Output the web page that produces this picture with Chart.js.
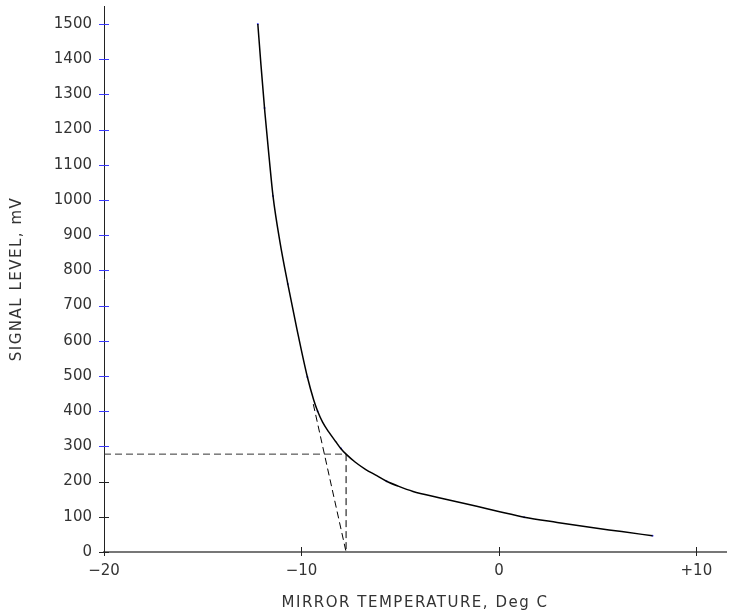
<!DOCTYPE html>
<html>
<head>
<meta charset="utf-8">
<script src="https://cdn.jsdelivr.net/npm/chart.js@4/dist/chart.umd.min.js"></script>
<style>
  html, body { margin: 0; padding: 0; background: #fff; }
  #wrap { width: 730px; height: 613px; }
</style>
</head>
<body>
<div id="wrap"><canvas id="grafico"></canvas></div>
<script>
// curva de calibracion
const curveTemp = [-12.21, -12.05, -11.85, -11.64, -11.44, -11.09, -10.69, -10.24, -9.70, -9.38,
    -9.18, -8.93, -8.62, -8.27, -8.02, -7.74, -7.27, -6.76, -6.26, -5.69,
    -5.10, -4.35, -3.09, -2.08, -1.07, -0.07, 1.28, 2.95, 4.61, 6.22, 7.78];
const curveSignal = [1500, 1383, 1247, 1122, 1011, 881, 761, 636, 497, 432,
    400, 369, 341, 314, 295, 278, 255, 235, 219, 201,
    187, 172, 155, 142, 129, 116, 99, 84, 70, 58, 46];

// puntos marcados en azul sobre la curva
const markerTemp = [-12.21, -11.87, -11.44, -10.69, -9.70, -9.18, -7.99, -5.69, 1.28, 7.78];
const markerSignal = [1500, 1261, 1011, 761, 497, 400, 294, 201, 99, 46];

// construccion del punto de rocio
const dewTemp = -7.74;
const dewSignal = 278;
const tangentTemp = [-9.4, -7.74];
const tangentSignal = [420, 0];

const xTicks = [-20, -10, 0, 10];
const yTicks = [0, 100, 200, 300, 400, 500, 600, 700, 800, 900, 1000, 1100, 1200, 1300, 1400, 1500];

const toXY = (xs, ys) => xs.map((x, i) => ({ x: x, y: ys[i] }));

const tickColorY = v => v >= 300 ? '#3a3aff' : '#222';

// marcas de eje que cruzan la linea
const crossTicks = {
    id: 'crossTicks',
    afterDatasetsDraw(chart) {
        const { ctx, chartArea, scales } = chart;
        ctx.save();
        ctx.lineWidth = 1;
        scales.y.ticks.forEach(t => {
            const py = Math.round(scales.y.getPixelForValue(t.value)) + 0.5;
            ctx.strokeStyle = tickColorY(t.value);
            ctx.beginPath();
            ctx.moveTo(chartArea.left - 5, py);
            ctx.lineTo(chartArea.left + 5, py);
            ctx.stroke();
        });
        scales.x.ticks.forEach(t => {
            const px = Math.round(scales.x.getPixelForValue(t.value)) + 0.5;
            ctx.strokeStyle = '#222';
            ctx.beginPath();
            ctx.moveTo(px, chartArea.bottom + 4);
            ctx.lineTo(px, chartArea.bottom - 5);
            ctx.stroke();
        });
        ctx.restore();
    }
};

// espaciado de letras solo para los titulos de los ejes
const titleSpacing = {
    id: 'titleSpacing',
    beforeDraw(chart) { chart.ctx.letterSpacing = '1.5px'; },
    beforeDatasetsDraw(chart) { chart.ctx.letterSpacing = '0px'; }
};

const fuente = { family: 'DejaVu Sans', size: 15 };

new Chart(document.getElementById('grafico'), {
    type: 'scatter',
    data: {
        datasets: [
            {
                data: toXY([-20, dewTemp], [dewSignal, dewSignal]),
                showLine: true, borderColor: '#333', borderWidth: 1, borderDash: [7, 4],
                pointRadius: 0
            },
            {
                data: toXY([dewTemp, dewTemp], [dewSignal, 0]),
                showLine: true, borderColor: '#000', borderWidth: 1, borderDash: [7, 4],
                pointRadius: 0
            },
            {
                data: toXY(tangentTemp, tangentSignal),
                showLine: true, borderColor: '#000', borderWidth: 1, borderDash: [7, 4],
                pointRadius: 0
            },
            {
                data: toXY(curveTemp, curveSignal),
                showLine: true, borderColor: '#000', borderWidth: 1.5,
                cubicInterpolationMode: 'monotone',
                pointRadius: 0
            },
            {
                data: toXY(markerTemp, markerSignal),
                showLine: false,
                pointRadius: 1, pointBorderWidth: 0, pointBackgroundColor: '#4a4aff'
            }
        ]
    },
    options: {
        responsive: true,
        maintainAspectRatio: false,
        animation: false,
        layout: { padding: { top: 6, right: 0, bottom: 0, left: 0 } },
        plugins: { legend: { display: false }, tooltip: { enabled: false } },
        scales: {
            x: {
                type: 'linear', min: -20, max: 11.5,
                afterBuildTicks: s => { s.ticks = xTicks.map(v => ({ value: v })); },
                afterFit: s => { s.height = 61; s.paddingLeft = 0; s.paddingRight = 0; },
                grid: { drawOnChartArea: false, drawTicks: true, tickLength: 4, tickColor: 'rgba(0,0,0,0)' },
                border: { color: '#777', width: 2 },
                ticks: {
                    z: 1, padding: 6, color: '#333', font: fuente, maxRotation: 0,
                    callback: v => v > 0 ? '+' + v : (v < 0 ? '\u2212' + Math.abs(v) : '0')
                },
                title: {
                    display: true, text: 'MIRROR TEMPERATURE, Deg C', color: '#333',
                    font: fuente, padding: { top: 0, bottom: 1 }
                }
            },
            y: {
                type: 'linear', min: 0, max: 1551,
                afterBuildTicks: s => { s.ticks = yTicks.map(v => ({ value: v })); },
                afterFit: s => { s.width = 104; s.paddingTop = 0; s.paddingBottom = 0; },
                grid: { drawOnChartArea: false, drawTicks: true, tickLength: 4, tickColor: 'rgba(0,0,0,0)' },
                border: { color: '#222', width: 1 },
                ticks: { z: 1, padding: 8, color: '#333', font: fuente, callback: v => String(v) },
                title: {
                    display: true, text: 'SIGNAL LEVEL, mV', color: '#333',
                    font: fuente, padding: { top: 8, bottom: 0 }
                }
            }
        }
    },
    plugins: [crossTicks, titleSpacing]
});
</script>
</body>
</html>
